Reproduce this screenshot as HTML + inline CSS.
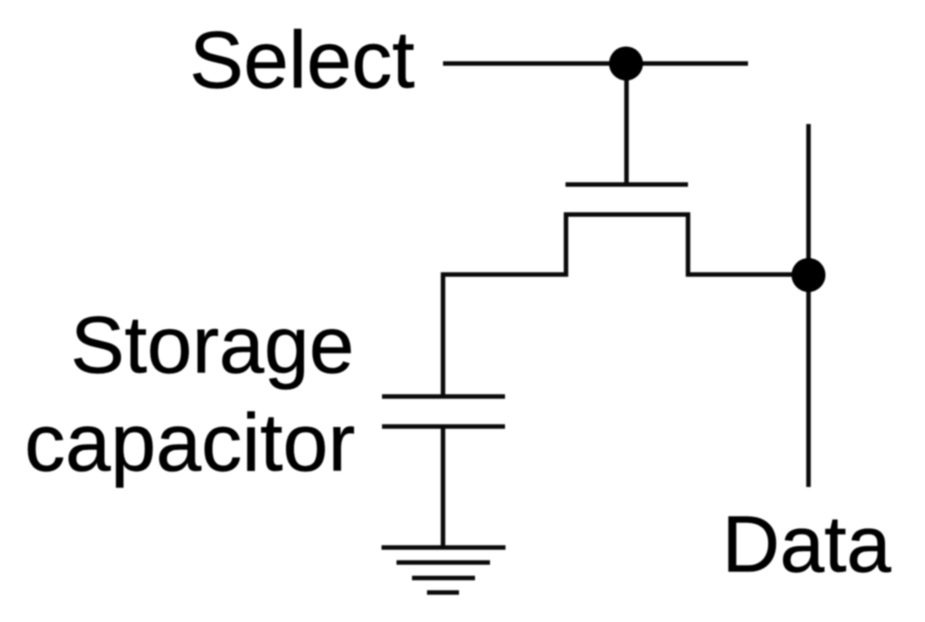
<!DOCTYPE html>
<html>
<head>
<meta charset="utf-8">
<style>
html,body{margin:0;padding:0;background:#fff;width:925px;height:622px;overflow:hidden}
svg{display:block;filter:blur(0.8px)}
text{font-family:"Liberation Sans",sans-serif;fill:#000;stroke:#000;stroke-width:0.5px}
</style>
</head>
<body>
<svg width="925" height="622" viewBox="0 0 925 622" xmlns="http://www.w3.org/2000/svg">
<g stroke="#0a0a0a" stroke-width="4.5" fill="none">
<path d="M443 63.5H748"/>
<path d="M626.5 63V184"/>
<path d="M565.5 184.5H688"/>
<path d="M808.5 124V487"/>
<path d="M443 396V274.5H566V214.5H688V274.5H808"/>
<path d="M382 396.5H505"/>
<path d="M382 426.5H505"/>
<path d="M443 426V547"/>
<path d="M381.5 547.5H505.5"/>
<path d="M396.5 562.5H490"/>
<path d="M412 578H475"/>
<path d="M427 592.5H459"/>
</g>
<circle cx="626" cy="63.5" r="17" fill="#000"/>
<circle cx="808.5" cy="275" r="17" fill="#000"/>
<text x="189.5" y="87.5" font-size="81">Select</text>
<text x="70.5" y="372.5" font-size="81">Storage</text>
<text x="24.5" y="470.5" font-size="81.5">capacitor</text>
<text x="722" y="571.5" font-size="80">Data</text>
</svg>
</body>
</html>
